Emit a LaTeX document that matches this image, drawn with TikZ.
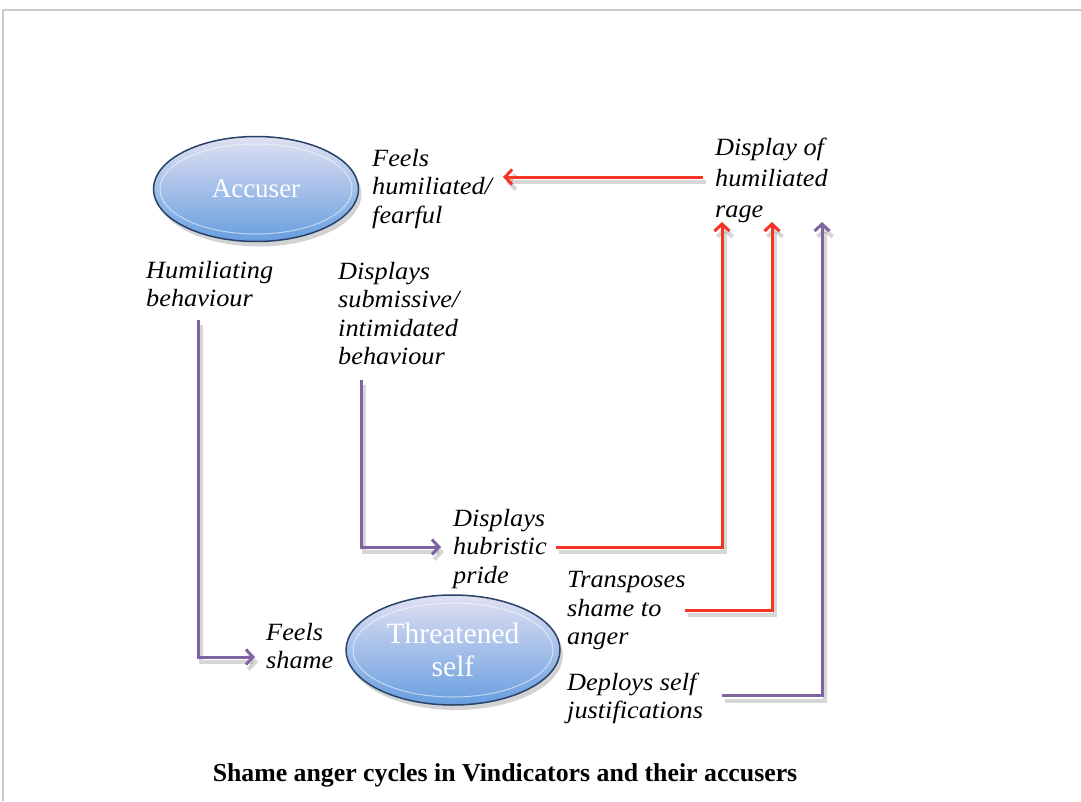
\documentclass[tikz,border=0pt]{standalone}
\usepackage{fontspec}
\setmainfont{Liberation Serif}
\newfontfamily\labelfont[FakeStretch=1.06]{Liberation Serif}
\usetikzlibrary{arrows.meta,calc,shadows,shapes.geometric}
\definecolor{flowpurple}{RGB}{128,100,162}
\definecolor{flowred}{RGB}{246,52,36}
\definecolor{ovaltop}{RGB}{224,224,242}
\definecolor{ovalbot}{RGB}{104,158,224}
\definecolor{ovalline}{RGB}{40,66,106}
\definecolor{frameline}{RGB}{205,205,205}
\tikzset{
  lbl/.style={anchor=west, align=left, inner sep=0pt,
    font=\labelfont\fontsize{24.8}{28.5}\selectfont\itshape},
  oval/.style={ellipse, minimum width=205pt, minimum height=105pt,
    draw=ovalline, line width=1.5pt, top color=ovaltop, bottom color=ovalbot,
    text=white, align=center, inner sep=0pt,
    font=\fontsize{27}{32}\selectfont,
    drop shadow={opacity=0.35, shadow xshift=3pt, shadow yshift=-5pt}},
  ring/.style={draw=white, opacity=0.55, line width=1pt},
  link/.style={line width=3pt, arrows={-Straight Barb[length=7pt,width=15pt]},
    preaction={draw=black, opacity=0.16, line width=4pt,
      transform canvas={shift={(3pt,-5pt)}}}},
  plink/.style={link, draw=flowpurple},
  rlink/.style={link, draw=flowred},
}
\begin{document}
\begin{tikzpicture}[x=1pt,y=-1pt]
\useasboundingbox (0,0) rectangle (1081,801);
% page frame
\draw[frameline, line width=1.5pt] (1081,10) -- (3,10) -- (3,801);

% the two selves
\node[oval] (acc) at (256,189) {Accuser};
\draw[ring] (acc.center) ellipse (96 and 45);
\node[oval, minimum width=214pt, minimum height=110pt, font=\fontsize{29.5}{33}\selectfont] (self) at (453,650) {Threatened\\self};
\draw[ring] (self.center) ellipse (100 and 47);

% labels
\node[lbl] (feelhum) at (372,189) {Feels\\humiliated/\\fearful};
\node[lbl, font=\labelfont\fontsize{24.8}{31}\selectfont\itshape] (rage) at (715,180) {Display of\\humiliated\\rage};
\node[lbl] (hum) at (146,284) {Humiliating\\behaviour};
\node[lbl] (sub) at (338,313.5) {Displays\\submissive/\\intimidated\\behaviour};
\node[lbl] (pride) at (453,549) {Displays\\hubristic\\pride};
\node[lbl] (transp) at (567,611) {Transposes\\shame to\\anger};
\node[lbl] (shame) at (266,646) {Feels\\shame};
\node[lbl] (deploy) at (567,698.5) {Deploys self\\justifications};
\node[font=\fontsize{25.8}{30}\selectfont\bfseries] (title) at (505,775)
  {Shame anger cycles in Vindicators and their accusers};

% connectors
\draw[plink] ($(hum.west)+(52,36)$) |- ($(shame.west)+(-11,11)$);
\draw[plink] ($(sub.west)+(23,66)$) |- ($(pride.west)+(-12,-2)$);
\draw[rlink] ($(pride.west)+(103,-2)$) -| ($(rage.west)+(7,42)$);
\draw[rlink] ($(transp.west)+(118,-1)$) -| ($(rage.west)+(57,42)$);
\draw[plink] ($(deploy.west)+(155,-3)$) -| ($(rage.west)+(107,42)$);
\draw[rlink] ($(rage.west)+(-12,-3)$) -- ($(feelhum.west)+(131,-12)$);
\end{tikzpicture}
\end{document}
